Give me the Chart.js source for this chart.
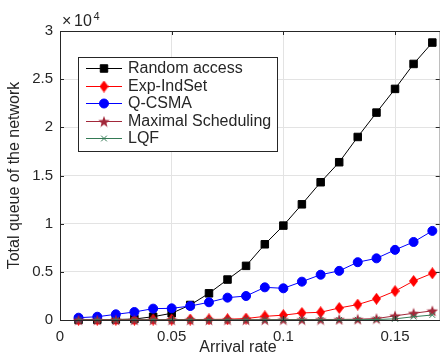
<!DOCTYPE html>
<html>
<head>
<meta charset="utf-8">
<title>Total queue vs arrival rate</title>
<script src="https://cdn.jsdelivr.net/npm/chart.js@4.4.1/dist/chart.umd.min.js"></script>
<style>
html,body{margin:0;padding:0;background:#fff;overflow:hidden}
#wrap{width:440px;height:358px;overflow:hidden}
canvas{display:block}
</style>
</head>
<body>
<div id="wrap"><canvas id="queue-chart" width="446" height="358"></canvas></div>
<script>
/* Total queue of the network vs arrival rate — MATLAB style line chart */

/* ── Data ── */
var arrivalRates = [0.0083,0.0167,0.025,0.0333,0.0417,0.05,0.0583,0.0667,0.075,0.0833,
                    0.0917,0.1,0.1083,0.1167,0.125,0.1333,0.1417,0.15,0.1583,0.1667];
var randomAccess = [10,20,50,100,340,700,1560,2770,4200,5620,7860,9800,12010,14300,16380,19000,21530,23990,26580,28800];
var expIndSet    = [20,20,30,30,40,40,50,60,80,150,380,500,730,800,1250,1600,2200,3000,4050,4850];
var qCsma        = [240,340,590,830,1180,1210,1450,1840,2320,2490,3390,3290,3980,4700,5100,6000,6400,7280,8100,9250];
var maximalSched = [10,10,10,10,20,20,20,20,30,30,30,40,40,50,60,80,150,430,700,950];
var lqf          = [0,0,0,0,10,10,10,10,10,10,10,20,20,20,20,30,50,120,340,520];
var seriesNames  = ['Random access','Exp-IndSet','Q-CSMA','Maximal Scheduling','LQF'];
var xTicks = [0,0.05,0.1,0.15];
var yTicks = [0,5000,10000,15000,20000,25000,30000];

var AXIS_COLOR = '#262626';
var FONT = '"Liberation Sans", Arial, Helvetica, sans-serif';

/* ── Custom MATLAB-like markers ── */
function makeDiamond(w, h, color){
  var c = document.createElement('canvas');
  c.width = w; c.height = h;
  var g = c.getContext('2d');
  g.fillStyle = color;
  g.beginPath();
  g.moveTo(w/2, 0); g.lineTo(w, h/2); g.lineTo(w/2, h); g.lineTo(0, h/2);
  g.closePath(); g.fill();
  return c;
}
function makeStar(size, color){
  var c = document.createElement('canvas');
  c.width = size; c.height = size;
  var g = c.getContext('2d');
  var cx = size/2, cy = size/2 + 0.6, R = size/2, r = R*0.42;
  g.fillStyle = color;
  g.beginPath();
  for(var i=0;i<10;i++){
    var rad = (i%2===0) ? R : r;
    var ang = -Math.PI/2 + i*Math.PI/5;
    var px = cx + rad*Math.cos(ang), py = cy + rad*Math.sin(ang);
    if(i===0) g.moveTo(px,py); else g.lineTo(px,py);
  }
  g.closePath(); g.fill();
  return c;
}

var diamondMarker = makeDiamond(9, 12, '#ff0000');
var starMarker = makeStar(12, '#a2283a');

function pts(ys){
  return arrivalRates.map(function(x,i){ return {x:x, y:ys[i]}; });
}

function series(label, data, color, style, radius, order){
  return {
    label:label, data:pts(data), borderColor:color, backgroundColor:color,
    borderWidth:1, pointStyle:style, pointRadius:radius, pointHoverRadius:radius,
    pointBackgroundColor:color, pointBorderColor:color, pointBorderWidth:1,
    tension:0, fill:false, clip:false, order:order
  };
}

var datasets = [
  series(seriesNames[0], randomAccess, '#000000', 'rect', 5.3, 5),
  series(seriesNames[1], expIndSet, '#ff0000', diamondMarker, 5, 4),
  series(seriesNames[2], qCsma, '#0000ff', 'circle', 4.5, 3),
  series(seriesNames[3], maximalSched, '#a2283a', starMarker, 5, 2),
  series(seriesNames[4], lqf, '#347a55', 'crossRot', 4, 1)
];

/* ── Box, inward ticks, exponent, x title and legend ── */
var matlabAxes = {
  id:'matlabAxes',
  afterDatasetsDraw:function(chart){
    var a = chart.chartArea, ctx = chart.ctx;
    var xs = chart.scales.x, ys = chart.scales.y;
    ctx.save();
    ctx.strokeStyle = AXIS_COLOR;
    ctx.lineWidth = 1;
    ctx.strokeRect(a.left+0.5, a.top+0.5, a.right-a.left, a.bottom-a.top);
    ctx.beginPath();
    xTicks.forEach(function(v){
      var px = Math.round(xs.getPixelForValue(v))+0.5;
      ctx.moveTo(px, a.bottom); ctx.lineTo(px, a.bottom-4);
      ctx.moveTo(px, a.top); ctx.lineTo(px, a.top+4);
    });
    yTicks.forEach(function(v){
      var py = Math.round(ys.getPixelForValue(v))+0.5;
      ctx.moveTo(a.left, py); ctx.lineTo(a.left+4, py);
      ctx.moveTo(a.right, py); ctx.lineTo(a.right-4, py);
    });
    ctx.stroke();

    // ×10^4 exponent label
    ctx.fillStyle = AXIS_COLOR;
    ctx.textAlign = 'left';
    ctx.textBaseline = 'alphabetic';
    ctx.font = '16px ' + FONT;
    ctx.fillText('\u00d7', 62, 26);
    ctx.fillText('10', 74, 26);
    ctx.font = '11px ' + FONT;
    ctx.fillText('4', 93.5, 20);

    // x axis title (MATLAB placed it slightly left of centre)
    ctx.font = '16px ' + FONT;
    ctx.textAlign = 'center';
    ctx.textBaseline = 'middle';
    ctx.fillText('Arrival rate', 238, 348);
    ctx.restore();
  },
  afterDraw:function(chart){
    var ctx = chart.ctx;
    var box = {left:78, top:57, right:277, bottom:151};
    ctx.save();
    ctx.fillStyle = '#ffffff';
    ctx.fillRect(box.left, box.top, box.right-box.left, box.bottom-box.top);
    ctx.strokeStyle = AXIS_COLOR;
    ctx.lineWidth = 1;
    ctx.strokeRect(box.left+0.5, box.top+0.5, box.right-box.left, box.bottom-box.top);
    chart.data.datasets.forEach(function(ds, i){
      var y = 68 + i*17.5;
      ctx.strokeStyle = ds.borderColor;
      ctx.lineWidth = 1;
      ctx.beginPath();
      ctx.moveTo(86, Math.round(y)+0.5); ctx.lineTo(122, Math.round(y)+0.5);
      ctx.stroke();
      ctx.fillStyle = ds.pointBackgroundColor;
      ctx.strokeStyle = ds.pointBorderColor;
      Chart.helpers.drawPoint(ctx, {
        pointStyle:ds.pointStyle, radius:ds.pointRadius, rotation:0, borderWidth:ds.pointBorderWidth
      }, 104, Math.round(y)+0.5);
      ctx.fillStyle = AXIS_COLOR;
      ctx.font = '16px ' + FONT;
      ctx.textAlign = 'left';
      ctx.textBaseline = 'middle';
      ctx.fillText(ds.label, 128, y+1);
    });
    ctx.restore();
  }
};

Chart.defaults.font.family = FONT;
Chart.defaults.color = AXIS_COLOR;

var chart = new Chart(document.getElementById('queue-chart'), {
  type:'line',
  data:{datasets:datasets},
  options:{
    responsive:false,
    animation:false,
    events:[],
    layout:{padding:{top:31, right:4, left:0, bottom:0}},
    plugins:{legend:{display:false}, tooltip:{enabled:false}},
    scales:{
      x:{
        type:'linear', min:0, max:0.17,
        afterBuildTicks:function(s){ s.ticks = xTicks.map(function(v){ return {value:v}; }); },
        afterFit:function(s){ s.height = 38; },
        grid:{color:'#e3e3e3', drawTicks:false},
        border:{display:false},
        ticks:{padding:8, font:{size:15}, color:AXIS_COLOR, maxRotation:0,
               callback:function(v){ return String(v); }}
      },
      y:{
        type:'linear', min:0, max:30000,
        afterBuildTicks:function(s){ s.ticks = yTicks.map(function(v){ return {value:v}; }); },
        afterFit:function(s){ s.width = 60; },
        grid:{color:'#e3e3e3', drawTicks:false},
        border:{display:false},
        ticks:{padding:7, font:{size:15}, color:AXIS_COLOR,
               callback:function(v){ return String(v/10000); }},
        title:{display:true, text:'Total queue of the network', font:{size:16},
               color:AXIS_COLOR, padding:{top:5, bottom:0}}
      }
    }
  },
  plugins:[matlabAxes]
});
</script>
</body>
</html>
